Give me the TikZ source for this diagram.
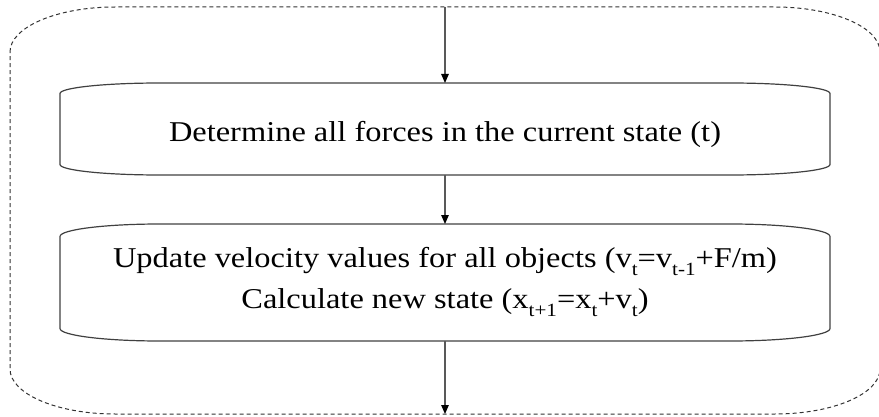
\documentclass[tikz,border=0pt]{standalone}
\usepackage{fontspec}
\setmainfont{Liberation Serif}[FakeStretch=1.13]
\usetikzlibrary{arrows.meta}
\newcommand\lowsub[1]{\raisebox{-0.28em}{\fontsize{18.7}{20}\selectfont #1}}
\newcommand\barrelshape[4]{% #1 node, #2 rx, #3 ry, #4 style
  \draw[#4] ([yshift=-#3]#1.north west)
    arc[start angle=180,end angle=90,x radius=#2,y radius=#3]
    -- ([xshift=-#2]#1.north east)
    arc[start angle=90,end angle=0,x radius=#2,y radius=#3]
    -- ([yshift=#3]#1.south east)
    arc[start angle=0,end angle=-90,x radius=#2,y radius=#3]
    -- ([xshift=#2]#1.south west)
    arc[start angle=270,end angle=180,x radius=#2,y radius=#3]
    -- cycle;}
\begin{document}
\begin{tikzpicture}[x=1pt,y=1pt,
  shapenode/.style={draw=none,inner sep=0pt,outer sep=0pt},
  boxline/.style={draw=black!75,line width=1.2pt},
  outerline/.style={draw=black!80,line width=1pt,dash pattern=on 4pt off 3pt},
  arr/.style={draw=black!65,line width=1.2pt,-{Triangle[length=9pt,width=7.5pt,color=black]}},
  lbl/.style={inner sep=0pt,font=\fontsize{28.7}{40}\selectfont}]
\useasboundingbox (0,0) rectangle (879,416);
\node[shapenode,minimum width=870pt,minimum height=407pt] (outer) at (445,205.5) {};
\node[shapenode,minimum width=770pt,minimum height=92pt] (b1) at (445,287) {};
\node[shapenode,minimum width=770pt,minimum height=117pt] (b2) at (445,133.5) {};
\barrelshape{outer}{105pt}{45pt}{outerline}
\barrelshape{b1}{100pt}{10.5pt}{boxline}
\barrelshape{b2}{100pt}{12.5pt}{boxline}
\node[lbl,anchor=base] (t1) at (445,275) {Determine all forces in the current state (t)};
\node[lbl,anchor=base] (t2) at (445,149) {Update velocity values for all objects (v\lowsub{t}=v\lowsub{t-1}+F/m)};
\node[lbl,anchor=base] (t3) at (445,108) {Calculate new state (x\lowsub{t+1}=x\lowsub{t}+v\lowsub{t})};
\draw[arr] (outer.north) -- (b1.north);
\draw[arr] (b1.south) -- (b2.north);
\draw[arr] (b2.south) -- (outer.south);
\end{tikzpicture}
\end{document}
